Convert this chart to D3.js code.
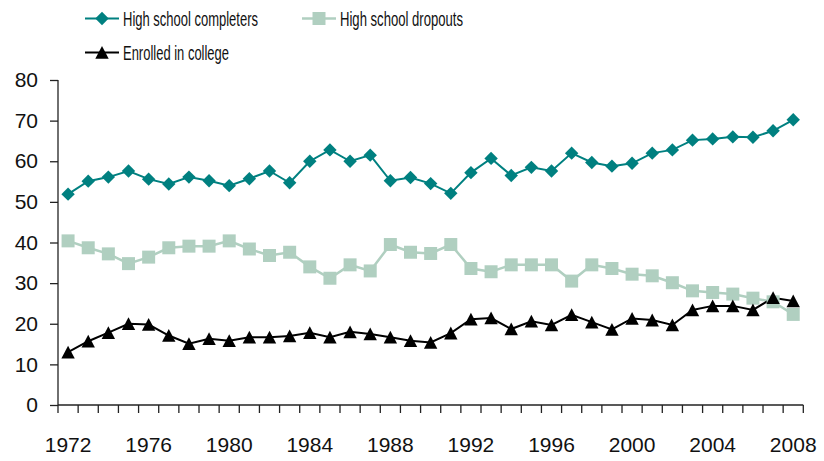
<!DOCTYPE html>
<html><head><meta charset="utf-8">
<script src="https://cdn.jsdelivr.net/npm/d3@7"></script>
<style>html,body{margin:0;padding:0;background:#fff;}svg{display:block;}</style>
</head><body>
<script>
const years = d3.range(1972, 2009);
const completers = [51.9,55.1,56.1,57.6,55.6,54.4,56.1,55.2,54.0,55.7,57.6,54.7,60.0,62.8,60.0,61.5,55.2,56.0,54.5,52.1,57.2,60.7,56.5,58.5,57.6,62.0,59.7,58.8,59.5,62.0,62.8,65.2,65.5,66.0,65.9,67.5,70.2];
const dropouts = [40.4,38.7,37.2,34.8,36.4,38.7,39.1,39.1,40.4,38.4,36.8,37.6,34.0,31.2,34.5,33.0,39.5,37.6,37.3,39.5,33.6,32.8,34.5,34.5,34.5,30.5,34.5,33.6,32.2,31.8,30.1,28.1,27.7,27.3,26.3,25.4,22.3];
const enrolled = [13.0,15.7,17.8,20.0,19.8,17.1,15.1,16.3,15.8,16.7,16.7,17.0,17.8,16.7,18.0,17.5,16.7,15.8,15.4,17.7,21.1,21.4,18.7,20.6,19.7,22.2,20.4,18.6,21.3,20.9,19.7,23.4,24.4,24.4,23.4,26.4,25.6];
const yTicks = [0,10,20,30,40,50,60,70,80];
const xLabelYears = [1972,1976,1980,1984,1988,1992,1996,2000,2004,2008];
const seriesNames = ["High school completers","High school dropouts","Enrolled in college"];

const W = 824, H = 461;
const svg = d3.select("body").append("svg").attr("width", W).attr("height", H);
const font = "'Liberation Sans', Arial, sans-serif";
const x = d3.scaleBand().domain(years).range([58, 803.3]).padding(0);
const y = d3.scaleLinear().domain([0, 80]).range([405, 80]);
const cx = d => x(d) + x.bandwidth() / 2;

// axes
const yAxis = svg.append("g").attr("transform", "translate(58,0)")
  .call(d3.axisLeft(y).tickValues(yTicks).tickSize(8).tickPadding(12).tickFormat(d3.format("d")));
yAxis.select(".domain").attr("d", "M0,80V405").attr("stroke", "#222").attr("stroke-width", 1.3);
yAxis.selectAll(".tick line").attr("stroke", "#222").attr("stroke-width", 1.3);
yAxis.selectAll("text").attr("font-family", font).attr("font-size", 21).attr("fill", "#111");

const xg = svg.append("g");
xg.append("line").attr("x1", 58).attr("x2", 803.3).attr("y1", 405).attr("y2", 405).attr("stroke", "#222").attr("stroke-width", 1.3);
const bounds = years.map(d => x(d)).concat([x(years[years.length - 1]) + x.bandwidth()]);
xg.selectAll("line.tk").data(bounds).enter().append("line").attr("class", "tk")
  .attr("x1", d => d).attr("x2", d => d).attr("y1", 405).attr("y2", 413).attr("stroke", "#222").attr("stroke-width", 1.3);
xg.selectAll("text").data(xLabelYears).enter().append("text")
  .attr("x", d => cx(d)).attr("y", 452).attr("text-anchor", "middle")
  .attr("font-family", font).attr("font-size", 21).attr("fill", "#111").text(d => d);

// series
const colors = ["#008080", "#b0cfc0", "#000000"];
const data = [completers, dropouts, enrolled];
const line = d3.line().x((d, i) => cx(years[i])).y(d => y(d));
const widths = [2, 2.5, 2];
[1, 2, 0].forEach(k => {
  svg.append("path").datum(data[k]).attr("d", line).attr("fill", "none")
    .attr("stroke", colors[k]).attr("stroke-width", widths[k]);
});
const diamond = d3.symbol().type(d3.symbolSquare).size(90)();
const square = d3.symbol().type(d3.symbolSquare).size(169)();
const tri = "M0,-6.5L6.7,6.3L-6.7,6.3Z";
function drawMarkers(k, path, rot) {
  svg.append("g").selectAll("path").data(data[k]).enter().append("path")
    .attr("d", path).attr("fill", colors[k])
    .attr("transform", (d, i) => `translate(${cx(years[i])},${y(d)})${rot ? " rotate(45)" : ""}`);
}
drawMarkers(1, square, false);
drawMarkers(2, tri, false);
drawMarkers(0, diamond, true);

// legend
const leg = [
  {k: 0, lx: 85, ly: 18.5, tx: 123, tw: 135, m: diamond, rot: true},
  {k: 1, lx: 302, ly: 18.5, tx: 340, tw: 123, m: square, rot: false},
  {k: 2, lx: 85, ly: 52.5, tx: 123, tw: 106, m: tri, rot: false}
];
leg.forEach(l => {
  const g = svg.append("g");
  g.append("line").attr("x1", l.lx).attr("x2", l.lx + 34).attr("y1", l.ly).attr("y2", l.ly)
    .attr("stroke", colors[l.k]).attr("stroke-width", widths[l.k]);
  g.append("path").attr("d", l.m).attr("fill", colors[l.k])
    .attr("transform", `translate(${l.lx + 17},${l.ly})${l.rot ? " rotate(45)" : ""}`);
  g.append("text").attr("x", l.tx).attr("y", l.ly + 7).attr("font-family", font).attr("font-size", 19.5)
    .attr("fill", "#111").attr("textLength", l.tw).attr("lengthAdjust", "spacingAndGlyphs").text(seriesNames[l.k]);
});
</script>
</body></html>
